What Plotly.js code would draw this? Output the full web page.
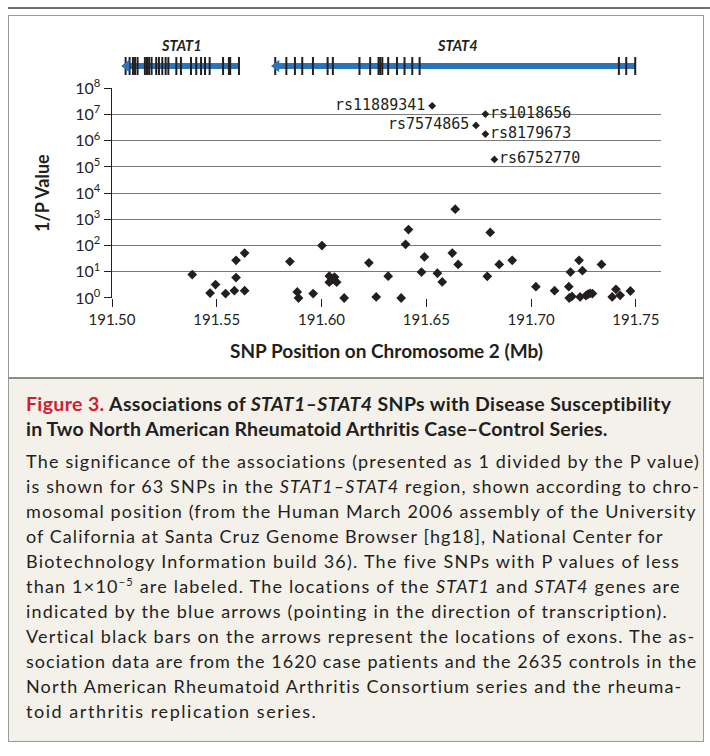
<!DOCTYPE html>
<html>
<head>
<meta charset="utf-8">
<script src="https://cdn.plot.ly/plotly-3.0.1.min.js"></script>
<style>
  html, body { margin:0; padding:0; background:#ffffff; }
  body { width:710px; height:756px; position:relative; overflow:hidden; font-family: Lato, "Noto Sans", sans-serif; }
  #topline { position:absolute; left:8px; right:0; top:7px; height:2px; background:#6d6e71; }
  #chartbox { position:absolute; left:8px; top:15px; width:694px; height:362px; border:1px solid #9a9a9a; border-bottom:none; background:#fff; }
  #capbox { position:absolute; left:8px; top:377px; width:694px; height:362px; border:1px solid #9a9a9a; border-top:2px solid #8c8c8c; background:#f4f1eb; }
  #plot { position:absolute; left:0; top:0; width:710px; height:380px; }
  .cap { position:absolute; left:26px; white-space:nowrap; color:#231f20; }
  .ttl { font-weight:700; font-size:19.5px; }
  .body { font-size:18px; }
  .red { color:#d0202e; }
</style>
</head>
<body>
<div id="topline"></div>
<div id="chartbox"></div>
<div id="capbox"></div>
<div id="plot"></div>

<div class="cap ttl" data-r="672" style="top:392px"><span class="red">Figure 3.</span> Associations of <i>STAT1–STAT4</i> SNPs with Disease Susceptibility</div>
<div class="cap ttl" data-r="608" style="top:417px">in Two North American Rheumatoid Arthritis Case–Control Series.</div>
<div class="cap body" data-r="700" style="top:450px">The significance of the associations (presented as 1 divided by the P value)</div>
<div class="cap body" data-r="700" style="top:475px">is shown for 63 SNPs in the <i>STAT1–STAT4</i> region, shown according to chro-</div>
<div class="cap body" data-r="697" style="top:500px">mosomal position (from the Human March 2006 assembly of the University</div>
<div class="cap body" data-r="664" style="top:525px">of California at Santa Cruz Genome Browser [hg18], National Center for</div>
<div class="cap body" data-r="680" style="top:550px">Biotechnology Information build 36). The five SNPs with P values of less</div>
<div class="cap body" data-r="681" style="top:575px">than 1×10<sup style="font-size:11px">−5</sup> are labeled. The locations of the <i>STAT1</i> and <i>STAT4</i> genes are</div>
<div class="cap body" data-r="669" style="top:600px">indicated by the blue arrows (pointing in the direction of transcription).</div>
<div class="cap body" data-r="696" style="top:625px">Vertical black bars on the arrows represent the locations of exons. The as-</div>
<div class="cap body" data-r="698" style="top:650px">sociation data are from the 1620 case patients and the 2635 controls in the</div>
<div class="cap body" data-r="683" style="top:675px">North American Rheumatoid Arthritis Consortium series and the rheuma-</div>
<div class="cap body" data-r="318" style="top:700px">toid arthritis replication series.</div>

<script>
// ---------- DATA ----------
// SNP position on chromosome 2 (Mb) and 1/P value
const snpPos = [
  191.5383, 191.5468, 191.5474, 191.5494, 191.5542, 191.5584, 191.5592, 191.5592,
  191.5633, 191.5633, 191.5821, 191.5849, 191.5884, 191.5890, 191.5960, 191.6002,
  191.6037, 191.6037, 191.6050, 191.6062, 191.6072, 191.6108, 191.6226, 191.6261,
  191.6318, 191.6380, 191.6401, 191.6415, 191.6477, 191.6491, 191.6553, 191.6576,
  191.6624, 191.6638, 191.6652, 191.6791, 191.6805, 191.6848, 191.6910, 191.7023,
  191.7112, 191.7180, 191.7182, 191.7188, 191.7195, 191.7229, 191.7234, 191.7245,
  191.7262, 191.7272, 191.7282, 191.7293, 191.7336, 191.7387, 191.7397, 191.7405,
  191.7425, 191.7474
];
const snpInvP = [
  7.8, 1.55, 0.95, 3.25, 1.47, 1.9, 27.5, 6.0,
  52, 1.9, 0.9, 24.5, 1.7, 1.0, 1.47, 100,
  6.9, 4.0, 5.0, 6.3, 4.0, 1.0, 22, 1.1,
  6.8, 1.0, 112, 410, 9.8, 37, 8.8, 4.1,
  52, 2450, 19, 6.7, 316, 19, 27.5, 2.7,
  1.9, 2.7, 1.0, 9.8, 1.15, 27.5, 1.1, 11,
  1.23, 1.42, 1.5, 1.47, 19, 1.1, 0.95, 2.15,
  1.27, 1.85
];
// labeled SNPs (P < 1e-5)
const topNames = ['rs11889341', 'rs1018656', 'rs7574865', 'rs8179673', 'rs6752770'];
const topPos   = [191.6528, 191.6782, 191.6737, 191.6782, 191.6825];
const topInvP  = [2.15e7, 1.04e7, 3.85e6, 1.8e6, 1.94e5];

// genes (transcribed toward smaller positions)
const geneNames = ['STAT1', 'STAT4'];
const geneStart = [191.5048, 191.5763];   // arrow tip
const geneEnd   = [191.5606, 191.7499];
const stat1Exons = [191.5065, 191.5084, 191.5100, 191.5110, 191.5122, 191.5157, 191.5167, 191.5177,
  191.5189, 191.5211, 191.5224, 191.5240, 191.5256, 191.5269, 191.5307, 191.5329, 191.5377,
  191.5402, 191.5425, 191.5444, 191.5466, 191.5530, 191.5558, 191.5564, 191.5606];
const stat4Exons = [191.5779, 191.5832, 191.5873, 191.5908, 191.5959, 191.6029, 191.6054,
  191.6181, 191.6232, 191.6272, 191.6280, 191.6290, 191.6318, 191.6360, 191.6396, 191.6433,
  191.6468, 191.7419, 191.7454, 191.7497];

// axes
const xTickVals = [191.50, 191.55, 191.60, 191.65, 191.70, 191.75];
const xTickText = ['191.50', '191.55', '191.60', '191.65', '191.70', '191.75'];
const yTickVals = [1, 10, 100, 1e3, 1e4, 1e5, 1e6, 1e7, 1e8];
const yTickText = ['10<sup>0</sup>', '10<sup>1</sup>', '10<sup>2</sup>', '10<sup>3</sup>', '10<sup>4</sup>',
  '10<sup>5</sup>', '10<sup>6</sup>', '10<sup>7</sup>', '10<sup>8</sup>'];

// ---------- STYLE ----------
const labelSide = ['left', 'right', 'left', 'right', 'right'];
const FONT = 'Lato, "Noto Sans", sans-serif';
const INK = '#231f20';
const BLUE = '#2a74bb';
// gene track uses a pixel-like helper axis (0 = top of figure)
const TRACK_Y = 66, EXON_HALF = 9, GENE_LABEL_Y = 46;

// fit caption lines to the reference line lengths
function fitCaption() {
  document.querySelectorAll('.cap').forEach(el => {
    el.style.letterSpacing = '0px';
    const target = parseFloat(el.getAttribute('data-r')) - 26;
    const w = el.getBoundingClientRect().width;
    const n = el.textContent.length;
    if (n > 0) el.style.letterSpacing = ((target - w) / n).toFixed(3) + 'px';
  });
}
fitCaption();
if (document.fonts && document.fonts.ready) document.fonts.ready.then(fitCaption);

// ---------- TRACES ----------
const traces = [];
traces.push({
  type:'scatter', mode:'markers', x:snpPos, y:snpInvP, cliponaxis:false,
  marker:{symbol:'diamond', size:7.5, color:INK}, hoverinfo:'skip', showlegend:false
});
traces.push({
  type:'scatter', mode:'markers', x:topPos, y:topInvP, cliponaxis:false,
  marker:{symbol:'diamond', size:6, color:INK}, hoverinfo:'skip', showlegend:false
});
// gene arrows
const exonSets = [stat1Exons, stat4Exons];
for (let g = 0; g < geneNames.length; g++) {
  traces.push({
    type:'scatter', mode:'lines', xaxis:'x', yaxis:'y2',
    x:[geneStart[g] + 0.003, geneEnd[g]], y:[TRACK_Y, TRACK_Y],
    line:{color:BLUE, width:6}, hoverinfo:'skip', showlegend:false
  });
  const ex = [], ey = [];
  exonSets[g].forEach(v => { ex.push(v, v, null); ey.push(TRACK_Y - EXON_HALF, TRACK_Y + EXON_HALF, null); });
  traces.push({
    type:'scatter', mode:'lines', xaxis:'x', yaxis:'y2', cliponaxis:false,
    x:ex, y:ey, line:{color:INK, width:2}, hoverinfo:'skip', showlegend:false
  });
  traces.push({
    type:'scatter', mode:'markers', xaxis:'x', yaxis:'y2', cliponaxis:false,
    x:[geneStart[g] + 0.0022], y:[TRACK_Y],
    marker:{symbol:'triangle-left', size:11, color:BLUE}, hoverinfo:'skip', showlegend:false
  });
}

// ---------- ANNOTATIONS ----------
const annotations = [];
for (let i = 0; i < topNames.length; i++) {
  const left = labelSide[i] === 'left';
  annotations.push({
    x: topPos[i], y: Math.log10(topInvP[i]), xref:'x', yref:'y',
    text: topNames[i], showarrow:false,
    xanchor: left ? 'right' : 'left', yanchor:'middle',
    xshift: left ? -5 : 3, yshift: 1,
    font:{family:'"DejaVu Sans Mono", monospace', size:15, color:INK}
  });
}
const geneLabelX = [191.5334, 191.6649];
for (let g = 0; g < geneNames.length; g++) {
  annotations.push({
    x: geneLabelX[g], y: GENE_LABEL_Y, xref:'x', yref:'y2', text:'<b><i>' + geneNames[g] + '</i></b>',
    showarrow:false, xanchor:'center', yanchor:'middle',
    font:{family:FONT, size:14.5, color:INK}
  });
}

const layout = {
  width:710, height:380,
  margin:{l:112, r:49, t:0, b:82, pad:0},
  paper_bgcolor:'rgba(0,0,0,0)', plot_bgcolor:'rgba(0,0,0,0)',
  font:{family:FONT, color:INK, size:15},
  showlegend:false,
  xaxis:{
    range:[191.50, 191.762], tickvals:xTickVals, ticktext:xTickText,
    showgrid:false, zeroline:false, showline:false,
    ticks:'outside', ticklen:8, tickwidth:1, tickcolor:INK,
    tickfont:{family:FONT, size:15, color:INK},
    title:{text:'SNP Position on Chromosome 2 (Mb)', font:{family:FONT, size:19, color:INK, weight:700}, standoff:17}
  },
  yaxis:{
    type:'log', range:[0, 8], domain:[0, 0.7037],
    tickvals:yTickVals, ticktext:yTickText,
    showgrid:true, gridcolor:'#7a7a7a', gridwidth:1,
    zeroline:false, showline:true, linecolor:INK, linewidth:1.5,
    ticks:'outside', ticklen:7, tickwidth:1, tickcolor:INK,
    tickfont:{family:FONT, size:16, color:INK},
    title:{text:'1/P Value', font:{family:FONT, size:18, color:INK, weight:700}, standoff:21}
  },
  yaxis2:{
    domain:[0.74, 1.0], range:[77.5, 0], anchor:'x', autorange:false,
    visible:false, showgrid:false, zeroline:false
  },
  shapes:[
    {type:'line', xref:'paper', yref:'y', x0:0, x1:1, y0:0, y1:0, line:{color:INK, width:2}}
  ],
  annotations:annotations
};

Plotly.newPlot('plot', traces, layout, {staticPlot:true, displayModeBar:false});
</script>
</body>
</html>
